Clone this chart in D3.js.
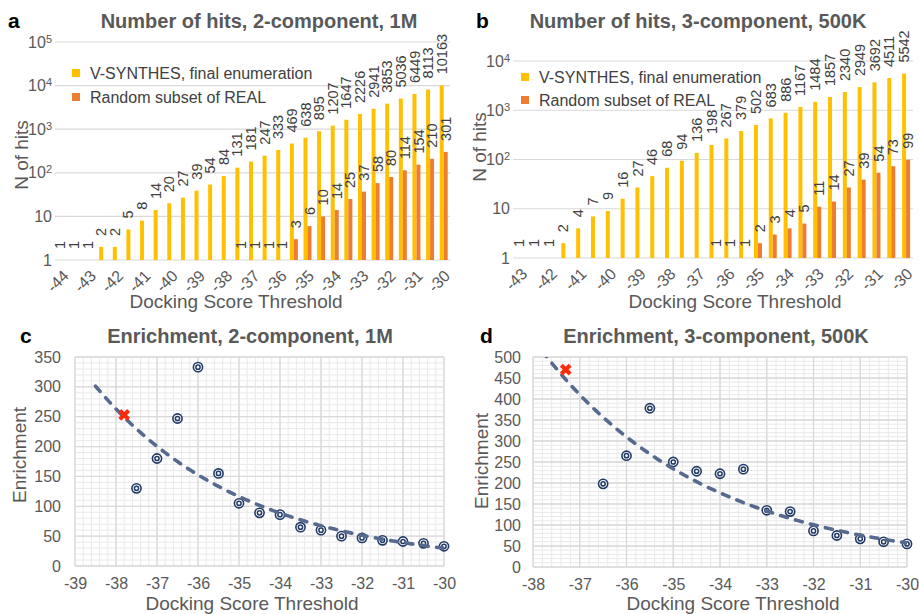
<!DOCTYPE html>
<html>
<head>
<meta charset="utf-8">
<script src="https://cdn.jsdelivr.net/npm/d3@7"></script>
<style>
  body { margin: 0; background: #fff; }
  svg { font-family: "Liberation Sans", Arial, sans-serif; display: block; }
</style>
</head>
<body>
<svg width="919" height="614"></svg>
<script>
// ---- data ----

// a: 2-component, 1M
let scoresA = [-44, -43.5, -43, -42.5, -42, -41.5, -41, -40.5, -40, -39.5, -39, -38.5, -38, -37.5,
  -37, -36.5, -36, -35.5, -35, -34.5, -34, -33.5, -33, -32.5, -32, -31.5, -31, -30.5, -30];
let hitsVsA = [1, 1, 1, 2, 2, 5, 8, 14, 20, 27, 39, 54, 84, 131, 181, 247, 333, 469, 638, 895,
  1207, 1647, 2226, 2941, 3853, 5036, 6449, 8113, 10163];
let hitsRandA = [null, null, null, null, null, null, null, null, null, null, null, null, null,
  1, 1, 1, 1, 3, 6, 10, 14, 25, 37, 58, 80, 114, 154, 210, 301];
let yTicksA = [1, 10, 100, 1000, 10000, 100000];

// b: 3-component, 500K
let scoresB = [-43, -42.5, -42, -41.5, -41, -40.5, -40, -39.5, -39, -38.5, -38, -37.5, -37,
  -36.5, -36, -35.5, -35, -34.5, -34, -33.5, -33, -32.5, -32, -31.5, -31, -30.5, -30];
let hitsVsB = [1, 1, 1, 2, 4, 7, 9, 16, 27, 46, 68, 94, 136, 198, 267, 379, 502, 683, 886,
  1167, 1484, 1857, 2340, 2949, 3692, 4511, 5542];
let hitsRandB = [null, null, null, null, null, null, null, null, null, null, null, null, null,
  1, 1, 1, 2, 3, 4, 5, 11, 14, 27, 39, 54, 73, 99];
let yTicksB = [1, 10, 100, 1000, 10000];

// c: enrichment, 2-component
let enrX_C = [-37.5, -37, -36.5, -36, -35.5, -35, -34.5, -34, -33.5, -33, -32.5, -32, -31.5, -31, -30.5, -30];
let enrY_C = [130, 180, 247, 333, 155, 105, 89, 86, 65, 60, 50, 47, 43, 41, 38, 33];
let markX_C = [-37.8], markY_C = [253];
let xTicksC = [-39, -38, -37, -36, -35, -34, -33, -32, -31, -30];
let yTicksC = [0, 50, 100, 150, 200, 250, 300, 350];

// d: enrichment, 3-component
let enrX_D = [-36.5, -36, -35.5, -35, -34.5, -34, -33.5, -33, -32.5, -32, -31.5, -31, -30.5, -30];
let enrY_D = [198, 265, 378, 250, 228, 222, 233, 135, 132, 86, 75, 67, 60, 55];
let markX_D = [-37.3], markY_D = [470];
let xTicksD = [-38, -37, -36, -35, -34, -33, -32, -31, -30];
let yTicksD = [0, 50, 100, 150, 200, 250, 300, 350, 400, 450, 500];

let seriesNames = ['V-SYNTHES, final enumeration', 'Random subset of REAL'];

// ---- styling ----
let colVs = '#FFC000';
let colRand = '#ED7D31';
let grey = '#595959';
let labelGrey = '#404040';
let gridCol = '#d9d9d9';
let minorCol = '#e9e9e9';
let navy = '#1F3864';
let trendCol = '#56698F';

let svg = d3.select('svg');

function panelText(o) {
  // panel letter
  svg.append('text')
    .attr('x', o.letterX).attr('y', o.titleY)
    .attr('font-size', 21).attr('font-weight', 'bold').attr('fill', '#000')
    .text(o.letter);
  // title
  svg.append('text')
    .attr('x', o.titleX).attr('y', o.titleY)
    .attr('text-anchor', 'middle')
    .attr('font-size', 20).attr('font-weight', 'bold').attr('fill', grey)
    .text(o.title);
  // x title
  svg.append('text')
    .attr('x', o.xTitleX).attr('y', o.xTitleY)
    .attr('text-anchor', 'middle')
    .attr('font-size', 19).attr('fill', grey)
    .text('Docking Score Threshold');
  // y title
  svg.append('text')
    .attr('transform', `translate(${o.yTitleX},${o.yTitleY}) rotate(-90)`)
    .attr('text-anchor', 'middle')
    .attr('font-size', 19).attr('fill', grey)
    .text(o.yTitle);
}

function barPanel(o) {
  let g = svg.append('g');

  let x = d3.scaleBand().domain(o.scores).range([o.left, o.right]);
  let y = d3.scaleLog().domain([1, d3.max(o.yTicks)]).range([o.bottom, o.top]);

  // horizontal gridlines at each decade
  g.append('g').selectAll('line')
    .data(o.yTicks)
    .join('line')
      .attr('x1', o.left).attr('x2', o.right)
      .attr('y1', d => y(d)).attr('y2', d => y(d))
      .attr('stroke', gridCol).attr('stroke-width', 1.2);

  // y tick labels, powers of ten written with a superscript
  let yl = g.append('g').selectAll('text')
    .data(o.yTicks)
    .join('text')
      .attr('x', o.left - 3)
      .attr('y', d => y(d))
      .attr('dy', '0.35em')
      .attr('text-anchor', 'end')
      .attr('font-size', 16).attr('fill', grey);
  yl.each(function (d) {
    let p = Math.round(Math.log10(d));
    let t = d3.select(this);
    if (p < 2) { t.text(d); return; }
    t.append('tspan').text('10');
    t.append('tspan').attr('dy', '-0.45em').attr('font-size', 11).text(p);
  });

  let rows = o.scores.map((s, i) => ({ s: s, vs: o.vs[i], rnd: o.rnd[i] }));
  let bw = 4;
  let cx = d => x(d.s) + x.bandwidth() / 2;

  // bars (value 1 sits on the axis, so it has no height)
  g.append('g').selectAll('rect')
    .data(rows)
    .join('rect')
      .attr('x', d => cx(d) - bw + 0.5)
      .attr('width', bw)
      .attr('y', d => y(d.vs))
      .attr('height', d => y(1) - y(d.vs))
      .attr('fill', colVs);

  g.append('g').selectAll('rect')
    .data(rows.filter(d => d.rnd != null))
    .join('rect')
      .attr('x', d => cx(d) + 0.5)
      .attr('width', bw)
      .attr('y', d => y(d.rnd))
      .attr('height', d => y(1) - y(d.rnd))
      .attr('fill', colRand);

  // data labels, rotated
  g.append('g').selectAll('text')
    .data(rows)
    .join('text')
      .attr('transform', d => `translate(${cx(d) - bw / 2 + 0.5},${y(d.vs) - 11}) rotate(-90)`)
      .attr('dy', '0.35em')
      .attr('font-size', 14.5).attr('fill', labelGrey)
      .text(d => d.vs);

  g.append('g').selectAll('text')
    .data(rows.filter(d => d.rnd != null))
    .join('text')
      .attr('transform', d => `translate(${cx(d) + bw / 2 + 0.5},${y(d.rnd) - 11}) rotate(-90)`)
      .attr('dy', '0.35em')
      .attr('font-size', 14.5).attr('fill', labelGrey)
      .text(d => d.rnd);

  // x axis: only whole scores are labelled, text at -45 deg
  let xa = g.append('g')
    .attr('transform', `translate(0,${o.bottom})`)
    .call(d3.axisBottom(x)
      .tickValues(o.scores.filter(s => Number.isInteger(s)))
      .tickSize(0)
      .tickFormat(s => `${s}`));
  xa.select('.domain').remove();
  xa.selectAll('text')
    .attr('x', 0).attr('y', 0).attr('dy', '0.35em')
    .attr('text-anchor', 'end')
    .attr('transform', 'translate(4,13) rotate(-45)')
    .attr('font-size', 16).attr('fill', grey)
    .attr('font-family', null);

  // legend
  let lg = g.append('g').selectAll('g')
    .data(seriesNames)
    .join('g')
      .attr('transform', (d, i) => `translate(${o.legX},${o.legY + i * o.legStep})`);
  lg.append('rect')
    .attr('x', -4).attr('y', -4).attr('width', 8).attr('height', 8)
    .attr('fill', (d, i) => i ? colRand : colVs);
  lg.append('text')
    .attr('x', 14).attr('dy', '0.35em')
    .attr('font-size', 16).attr('fill', labelGrey)
    .text(d => d);

  panelText(o);
}

function expFit(xs, ys) {
  // least squares on log(y), same as a spreadsheet exponential trendline
  let ly = ys.map(Math.log);
  let mx = d3.mean(xs), my = d3.mean(ly);
  let b = d3.sum(xs, (v, i) => (v - mx) * (ly[i] - my)) / d3.sum(xs, v => (v - mx) * (v - mx));
  let a = my - b * mx;
  return v => Math.exp(a + b * v);
}

function scatterPanel(o) {
  let g = svg.append('g');

  let x = d3.scaleLinear().domain(d3.extent(o.xTicks)).range([o.left, o.right]);
  let y = d3.scaleLinear().domain(d3.extent(o.yTicks)).range([o.bottom, o.top]);

  // minor grid
  let mg = g.append('g').attr('stroke', minorCol).attr('stroke-width', 1);
  mg.selectAll('line.vx')
    .data(x.ticks(o.minorX))
    .join('line').attr('class', 'vx')
      .attr('x1', d => x(d)).attr('x2', d => x(d))
      .attr('y1', o.top).attr('y2', o.bottom);
  mg.selectAll('line.hy')
    .data(y.ticks(o.minorY))
    .join('line').attr('class', 'hy')
      .attr('x1', o.left).attr('x2', o.right)
      .attr('y1', d => y(d)).attr('y2', d => y(d));

  // major grid
  let jg = g.append('g').attr('stroke', gridCol).attr('stroke-width', 1.3);
  jg.selectAll('line.vx')
    .data(o.xTicks)
    .join('line').attr('class', 'vx')
      .attr('x1', d => x(d)).attr('x2', d => x(d))
      .attr('y1', o.top).attr('y2', o.bottom);
  jg.selectAll('line.hy')
    .data(o.yTicks)
    .join('line').attr('class', 'hy')
      .attr('x1', o.left).attr('x2', o.right)
      .attr('y1', d => y(d)).attr('y2', d => y(d));

  // axes
  let xa = g.append('g')
    .attr('transform', `translate(0,${o.bottom})`)
    .call(d3.axisBottom(x).tickValues(o.xTicks).tickSize(0).tickPadding(12).tickFormat(v => `${v}`));
  xa.select('.domain').remove();
  xa.selectAll('text').attr('font-size', 16).attr('fill', grey).attr('font-family', null);

  let ya = g.append('g')
    .attr('transform', `translate(${o.left},0)`)
    .call(d3.axisLeft(y).tickValues(o.yTicks).tickSize(0).tickPadding(o.yPad).tickFormat(v => `${v}`));
  ya.select('.domain').remove();
  ya.selectAll('text').attr('font-size', 16).attr('fill', grey).attr('font-family', null);

  // points: double rings
  let pts = o.xs.map((v, i) => ({ x: v, y: o.ys[i] }));
  let pg = g.append('g').selectAll('g')
    .data(pts)
    .join('g')
      .attr('transform', d => `translate(${x(d.x)},${y(d.y)})`);
  pg.append('circle').attr('r', 4.6)
    .attr('fill', '#fff').attr('stroke', navy).attr('stroke-width', 1.6);
  pg.append('circle').attr('r', 2.1)
    .attr('fill', 'none').attr('stroke', navy).attr('stroke-width', 1.5);

  // exponential trendline, extended back to o.trendFrom and clipped to the plot
  let fit = expFit(o.xs, o.ys);
  let clipId = 'clip-' + o.letter;
  svg.append('clipPath').attr('id', clipId)
    .append('rect')
      .attr('x', o.left).attr('y', o.top)
      .attr('width', o.right - o.left).attr('height', o.bottom - o.top);
  let line = d3.line().x(v => x(v)).y(v => y(fit(v)));
  g.append('path')
    .attr('clip-path', `url(#${clipId})`)
    .attr('d', line(d3.range(o.trendFrom, d3.max(o.xs) + 0.001, 0.05)))
    .attr('fill', 'none')
    .attr('stroke', trendCol).attr('stroke-width', 3.6)
    .attr('stroke-linecap', 'round')
    .attr('stroke-dasharray', '7,8.5');

  // red marker
  g.append('g').selectAll('path')
    .data(o.markX.map((v, i) => ({ x: v, y: o.markY[i] })))
    .join('path')
      .attr('d', d3.symbol(d3.symbolCross, 85))
      .attr('transform', d => `translate(${x(d.x)},${y(d.y)}) rotate(45)`)
      .attr('fill', '#FF2A0A');

  panelText(o);
}

barPanel({
  letter: 'a', title: 'Number of hits, 2-component, 1M', yTitle: 'N of hits',
  scores: scoresA, vs: hitsVsA, rnd: hitsRandA, yTicks: yTicksA,
  left: 55, right: 450, top: 42, bottom: 260,
  legX: 76, legY: 73, legStep: 24,
  letterX: 8, titleX: 259, titleY: 28,
  xTitleX: 236, xTitleY: 308, yTitleX: 28, yTitleY: 155
});

barPanel({
  letter: 'b', title: 'Number of hits, 3-component, 500K', yTitle: 'N of hits',
  scores: scoresB, vs: hitsVsB, rnd: hitsRandB, yTicks: yTicksB,
  left: 513, right: 913, top: 61, bottom: 258,
  legX: 525, legY: 77, legStep: 23,
  letterX: 476, titleX: 698, titleY: 28,
  xTitleX: 735, xTitleY: 308, yTitleX: 486, yTitleY: 147
});

scatterPanel({
  letter: 'c', title: 'Enrichment, 2-component, 1M', yTitle: 'Enrichment',
  xs: enrX_C, ys: enrY_C, markX: markX_C, markY: markY_C,
  xTicks: xTicksC, yTicks: yTicksC, minorX: 45, minorY: 35, yPad: 14,
  left: 75, right: 444, top: 357, bottom: 566, trendFrom: -38.5,
  letterX: 20, titleX: 250, titleY: 343,
  xTitleX: 252, xTitleY: 610, yTitleX: 26, yTitleY: 455
});

scatterPanel({
  letter: 'd', title: 'Enrichment, 3-component, 500K', yTitle: 'Enrichment',
  xs: enrX_D, ys: enrY_D, markX: markX_D, markY: markY_D,
  xTicks: xTicksD, yTicks: yTicksD, minorX: 40, minorY: 50, yPad: 12,
  left: 533, right: 907, top: 357, bottom: 567, trendFrom: -38,
  letterX: 480, titleX: 716, titleY: 343,
  xTitleX: 733, xTitleY: 610, yTitleX: 488, yTitleY: 461
});
</script>
</body>
</html>
